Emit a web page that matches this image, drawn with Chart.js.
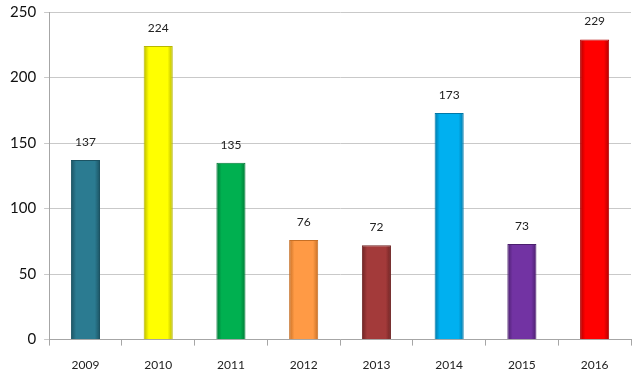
<!DOCTYPE html>
<html>
<head>
<meta charset="utf-8">
<script src="https://cdn.jsdelivr.net/npm/chart.js@4.4.0/dist/chart.umd.min.js"></script>
<style>
  html, body { margin: 0; padding: 0; background: #fff; }
  #wrap { width: 640px; height: 374px; }
</style>
</head>
<body>
<div id="wrap"><canvas id="barChart"></canvas></div>
<script>
// data
const years = ['2009', '2010', '2011', '2012', '2013', '2014', '2015', '2016'];
const counts = [137, 224, 135, 76, 72, 173, 73, 229];
const barColors = ['#2b7b91', '#ffff00', '#00b050', '#ff9a45', '#a33a3a', '#00b0f0', '#7233a3', '#ff0000'];
const edgeColors = ['#1c5363', '#b8b800', '#007a36', '#c66f25', '#6e2323', '#0078a8', '#4b1f6e', '#b00000'];
const yTicks = [0, 50, 100, 150, 200, 250];

const barPct = 0.4;

// shaded sides like the bevel in the original
function bevel(ctx) {
    const chart = ctx.chart;
    const i = ctx.dataIndex;
    const xs = chart.scales.x;
    if (!chart.chartArea || !xs || xs.width === 0) return barColors[i];
    const cx = xs.getPixelForValue(i);
    const half = xs.width / years.length * barPct / 2;
    const g = chart.ctx.createLinearGradient(cx - half, 0, cx + half, 0);
    g.addColorStop(0, edgeColors[i]);
    g.addColorStop(0.18, barColors[i]);
    g.addColorStop(0.82, barColors[i]);
    g.addColorStop(1, edgeColors[i]);
    return g;
}

const valueLabels = {
    id: 'valueLabels',
    afterDatasetsDraw(chart) {
        const c = chart.ctx;
        const meta = chart.getDatasetMeta(0);
        c.save();
        c.font = '12px Lato, "Liberation Sans", sans-serif';
        c.fillStyle = '#222';
        c.textAlign = 'center';
        c.textBaseline = 'bottom';
        meta.data.forEach((bar, i) => {
            c.fillText(String(counts[i]), bar.x, bar.y - 12);
        });
        c.restore();
    }
};

document.addEventListener('DOMContentLoaded', function() {
    new Chart(document.getElementById('barChart'), {
        type: 'bar',
        data: {
            labels: years,
            datasets: [{
                data: counts,
                backgroundColor: bevel,
                borderColor: edgeColors,
                borderWidth: 1,
                barPercentage: barPct,
                categoryPercentage: 1
            }]
        },
        options: {
            responsive: true,
            maintainAspectRatio: false,
            animation: false,
            layout: { padding: { left: 2, right: 9, top: 12, bottom: -10 } },
            plugins: {
                legend: { display: false },
                tooltip: { enabled: false }
            },
            scales: {
                x: {
                    grid: {
                        offset: true,
                        drawOnChartArea: false,
                        tickLength: 6,
                        color: '#a6a6a6'
                    },
                    border: { color: '#a6a6a6' },
                    ticks: {
                        color: '#222',
                        padding: 12,
                        font: { family: 'Lato, "Liberation Sans", sans-serif', size: 12 }
                    }
                },
                y: {
                    min: 0,
                    max: 250,
                    afterBuildTicks: (axis) => { axis.ticks = yTicks.map(v => ({ value: v })); },
                    afterFit: (axis) => { axis.paddingTop = 0; },
                    grid: { color: '#c9c9c9', tickLength: 5 },
                    border: { color: '#a6a6a6' },
                    ticks: {
                        color: '#111',
                        padding: 8,
                        font: { family: 'Lato, "Liberation Sans", sans-serif', size: 15 }
                    }
                }
            }
        },
        plugins: [valueLabels]
    });
});
</script>
</body>
</html>
